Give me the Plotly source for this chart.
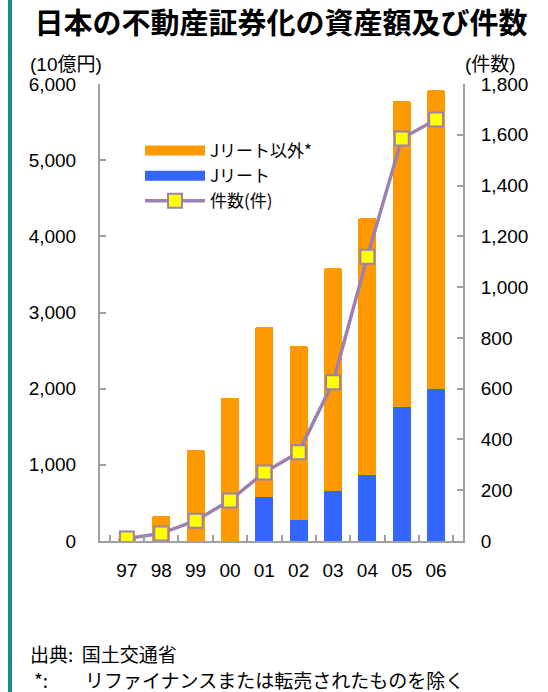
import plotly.graph_objects as go

years = ["97", "98", "99", "00", "01", "02", "03", "04", "05", "06"]
jreit = [0, 0, 0, 0, 580, 270, 660, 870, 1760, 2000]
non_jreit = [20, 330, 1200, 1880, 2230, 2290, 2920, 3370, 4020, 3920]
counts = [10, 30, 80, 160, 270, 350, 625, 1120, 1585, 1660]

left_ticks = [0, 1000, 2000, 3000, 4000, 5000, 6000]
right_ticks = [0, 200, 400, 600, 800, 1000, 1200, 1400, 1600, 1800]

FONT = "Liberation Sans, Arial, Noto Sans CJK JP, sans-serif"
CJK = "Noto Sans CJK JP, sans-serif"
ORANGE, BLUE, PURPLE = "#ff9900", "#3366ff", "#9b80b0"
W, H = 548, 692
L, R, T, B = 100, 85, 84, 151
pw, ph = W - L - R, H - T - B

def px(x):
    return (x - L) / pw

def py(y):
    return (H - B - y) / ph

fig = go.Figure()
fig.add_trace(go.Bar(x=years, y=jreit, name="Jリート", marker=dict(color=BLUE, line=dict(width=0)),
                     showlegend=False))
fig.add_trace(go.Bar(x=years, y=non_jreit, name="Jリート以外*",
                     marker=dict(color=ORANGE, line=dict(width=0)), showlegend=False))
fig.add_trace(go.Scatter(x=years, y=counts, name="件数(件)", yaxis="y2", mode="lines+markers",
                         line=dict(color=PURPLE, width=3.5),
                         marker=dict(symbol="square", size=14, color="#ffff00",
                                     line=dict(color=PURPLE, width=2)),
                         legendrank=3))
# legend swatches for the bar series
fig.add_trace(go.Scatter(x=[None], y=[None], name="Jリート以外*", mode="lines",
                         line=dict(color=ORANGE, width=15), legendrank=1))
fig.add_trace(go.Scatter(x=[None], y=[None], name="Jリート", mode="lines",
                         line=dict(color=BLUE, width=15), legendrank=2))

axis_common = dict(showgrid=False, showline=True, linecolor="#a0a0a0", linewidth=2,
                   ticks="inside", ticklen=6, tickcolor="#a0a0a0", tickwidth=2,
                   tickfont=dict(family=FONT, size=19, color="#000"), zeroline=False)

fig.update_layout(
    width=W, height=H,
    margin=dict(l=L, r=R, t=T, b=B),
    paper_bgcolor="white", plot_bgcolor="white",
    barmode="stack", bargap=0.47, barcornerradius=2,
    showlegend=True,
    legend=dict(x=px(140), y=py(133), xanchor="left", yanchor="top", traceorder="normal",
                font=dict(family=CJK, size=17, color="#000"),
                bgcolor="rgba(0,0,0,0)", tracegroupgap=0, itemwidth=60),
    title=dict(text="<b>日本の不動産証券化の資産額及び件数</b>",
               x=281 / W, xanchor="center", xref="container",
               y=1 - 24 / H, yanchor="middle", yref="container",
               font=dict(family=CJK, size=29, color="#000")),
    xaxis=dict(type="category", tickson="boundaries", ticklabelstandoff=11, **axis_common),
    yaxis=dict(range=[0, 6000], tickvals=left_ticks, tickformat=",", ticklabelstandoff=18,
               **axis_common),
    yaxis2=dict(range=[0, 1800], tickvals=right_ticks, tickformat=",", overlaying="y",
                side="right", ticklabelstandoff=12, **axis_common),
    shapes=[dict(type="rect", xref="paper", yref="paper", x0=px(8), x1=px(12),
                 y0=py(H), y1=py(0), fillcolor="#1a8884", line=dict(width=0), layer="above")],
)

ann_font = dict(family=FONT, size=19, color="#000")
note_font = dict(family=CJK, size=19, color="#000")
fig.add_annotation(text="(10億円)", x=px(28), y=py(65), xref="paper", yref="paper",
                   xanchor="left", yanchor="middle", showarrow=False, font=ann_font)
fig.add_annotation(text="(件数)", x=px(463), y=py(65), xref="paper", yref="paper",
                   xanchor="left", yanchor="middle", showarrow=False, font=ann_font)
fig.add_annotation(text="出典:  国土交通省", x=px(28), y=py(653), xref="paper", yref="paper",
                   xanchor="left", yanchor="middle", showarrow=False, font=note_font)
fig.add_annotation(text="*:", x=px(32), y=py(679), xref="paper", yref="paper",
                   xanchor="left", yanchor="middle", showarrow=False, font=note_font)
fig.add_annotation(text="リファイナンスまたは転売されたものを除く", x=px(83), y=py(679),
                   xref="paper", yref="paper", xanchor="left", yanchor="middle",
                   showarrow=False, font=note_font)

fig.write_html("out.html")
